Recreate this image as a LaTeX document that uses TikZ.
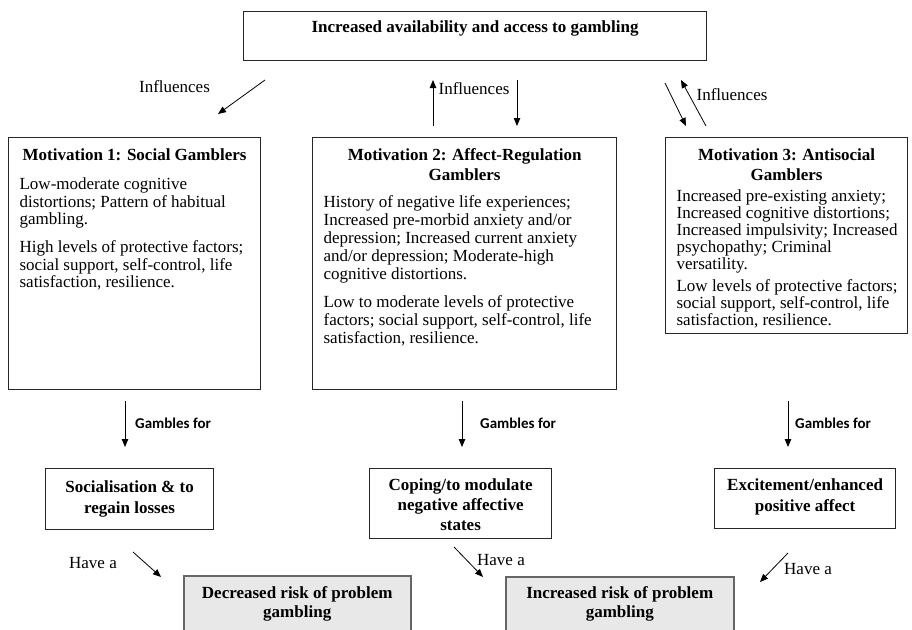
\documentclass[tikz,border=0pt]{standalone}
\usepackage{fontspec}
\setmainfont{Liberation Serif}
\newfontfamily\gamblesfont{Carlito}
\usetikzlibrary{arrows.meta}
\tikzset{
  box/.style={draw=black!85, line width=1.2pt, inner sep=0pt, anchor=north west},
  riskbox/.style={draw=black!60, fill=black!9, line width=1.5pt, inner sep=0pt, anchor=north west},
  arr/.style={-{Triangle[length=8pt,width=6.5pt]}, line width=0.8pt},
  lbl/.style={font=\fontsize{17}{20}\selectfont, inner sep=0pt},
  gfor/.style={font=\gamblesfont\bfseries\fontsize{15}{18}\selectfont, inner sep=0pt, anchor=west},
}
\newcommand{\boldline}{\bfseries\fontsize{17}{20}\selectfont}
\newcommand{\bodyfont}{\mdseries\fontsize{17}{17.5}\selectfont}
\begin{document}
\begin{tikzpicture}[x=1pt,y=-1pt]
\useasboundingbox (0,0) rectangle (912,629);

% top box
\node[box] (top) at (243,11) {\parbox[t][49pt][t]{463pt}{\centering\boldline\rule{0pt}{21pt}Increased availability and access to gambling}};

% motivation boxes
\node[box] (m1) at (8,137) {\parbox[t][252pt][t]{252pt}{%
  {\centering\boldline\rule{0pt}{23pt}Motivation 1: Social Gamblers\par}
  \vspace{11.5pt}
  {\bodyfont\raggedright\leftskip=11pt
  Low-moderate cognitive\\
  distortions; Pattern of habitual\\
  gambling.\\[10.5pt]
  High levels of protective factors;\\
  social support, self-control, life\\
  satisfaction, resilience.\par}}};

\node[box] (m2) at (312,137) {\parbox[t][252pt][t]{304pt}{%
  {\centering\boldline\rule{0pt}{23pt}Motivation 2: Affect-Regulation\\Gamblers\par}
  \vspace{9pt}
  {\mdseries\fontsize{17}{18}\selectfont\raggedright\leftskip=11pt
  History of negative life experiences;\\
  Increased pre-morbid anxiety and/or\\
  depression; Increased current anxiety\\
  and/or depression; Moderate-high\\
  cognitive distortions.\\[10pt]
  Low to moderate levels of protective\\
  factors; social support, self-control, life\\
  satisfaction, resilience.\par}}};

\node[box] (m3) at (665,137) {\parbox[t][196pt][t]{242pt}{%
  {\centering\boldline\rule{0pt}{23pt}Motivation 3: Antisocial\\Gamblers\par}
  \vspace{4pt}
  {\mdseries\fontsize{17}{17}\selectfont\raggedright\leftskip=11pt
  Increased pre-existing anxiety;\\
  Increased cognitive distortions;\\
  Increased impulsivity; Increased\\
  psychopathy; Criminal\\
  versatility.\\[5pt]
  Low levels of protective factors;\\
  social support, self-control, life\\
  satisfaction, resilience.\par}}};

% outcome boxes
\node[box] (b1) at (45,468) {\parbox[t][61pt][t]{168pt}{\centering\fontsize{17}{21}\selectfont\bfseries\rule{0pt}{24pt}Socialisation \& to\\regain losses}};
\node[box] (b2) at (369,468) {\parbox[t][70pt][t]{182pt}{\centering\fontsize{17}{20}\selectfont\bfseries\rule{0pt}{22pt}Coping/to modulate\\negative affective\\states}};
\node[box] (b3) at (714,468) {\parbox[t][60pt][t]{181pt}{\centering\fontsize{17}{21}\selectfont\bfseries\rule{0pt}{22pt}Excitement/enhanced\\positive affect}};

% risk boxes
\node[riskbox] (r1) at (183,575) {\parbox[t][72pt][t]{227pt}{\centering\fontsize{17}{19}\selectfont\bfseries\rule{0pt}{23pt}Decreased risk of problem\\gambling}};
\node[riskbox] (r2) at (505,576) {\parbox[t][72pt][t]{228pt}{\centering\fontsize{17}{19}\selectfont\bfseries\rule{0pt}{22pt}Increased risk of problem\\gambling}};

% Influences arrows
\coordinate (i1s) at (265,80); \coordinate (i1e) at (218,114);
\coordinate (i2s) at (433,126); \coordinate (i2e) at (433,80);
\coordinate (i3s) at (517,80); \coordinate (i3e) at (517,126);
\coordinate (i4s) at (665,83); \coordinate (i4e) at (686,126);
\coordinate (i5s) at (706,126); \coordinate (i5e) at (681,80);
\draw[arr] (i1s) -- (i1e);
\draw[arr] (i2s) -- (i2e);
\draw[arr] (i3s) -- (i3e);
\draw[arr] (i4s) -- (i4e);
\draw[arr] (i5s) -- (i5e);
\node[lbl] (l1) at (174.5,87) {Influences};
\node[lbl] (l2) at (474,89) {Influences};
\node[lbl] (l3) at (732,95) {Influences};

% Gambles for arrows
\coordinate (g1s) at (125,401); \coordinate (g1e) at (125,447);
\coordinate (g2s) at (462,401); \coordinate (g2e) at (462,447);
\coordinate (g3s) at (788,401); \coordinate (g3e) at (788,447);
\draw[arr] (g1s) -- (g1e);
\draw[arr] (g2s) -- (g2e);
\draw[arr] (g3s) -- (g3e);
\node[gfor] (gl1) at (135,423) {Gambles for};
\node[gfor] (gl2) at (480,423) {Gambles for};
\node[gfor] (gl3) at (795,423) {Gambles for};

% Have a arrows
\coordinate (h1s) at (133,552); \coordinate (h1e) at (161,577);
\coordinate (h2s) at (454,547); \coordinate (h2e) at (483,577);
\coordinate (h3s) at (788,553); \coordinate (h3e) at (760,582);
\draw[arr] (h1s) -- (h1e);
\draw[arr] (h2s) -- (h2e);
\draw[arr] (h3s) -- (h3e);
\node[lbl] (hl1) at (93,563) {Have a};
\node[lbl] (hl2) at (501,560) {Have a};
\node[lbl] (hl3) at (808,569) {Have a};
\end{tikzpicture}
\end{document}
